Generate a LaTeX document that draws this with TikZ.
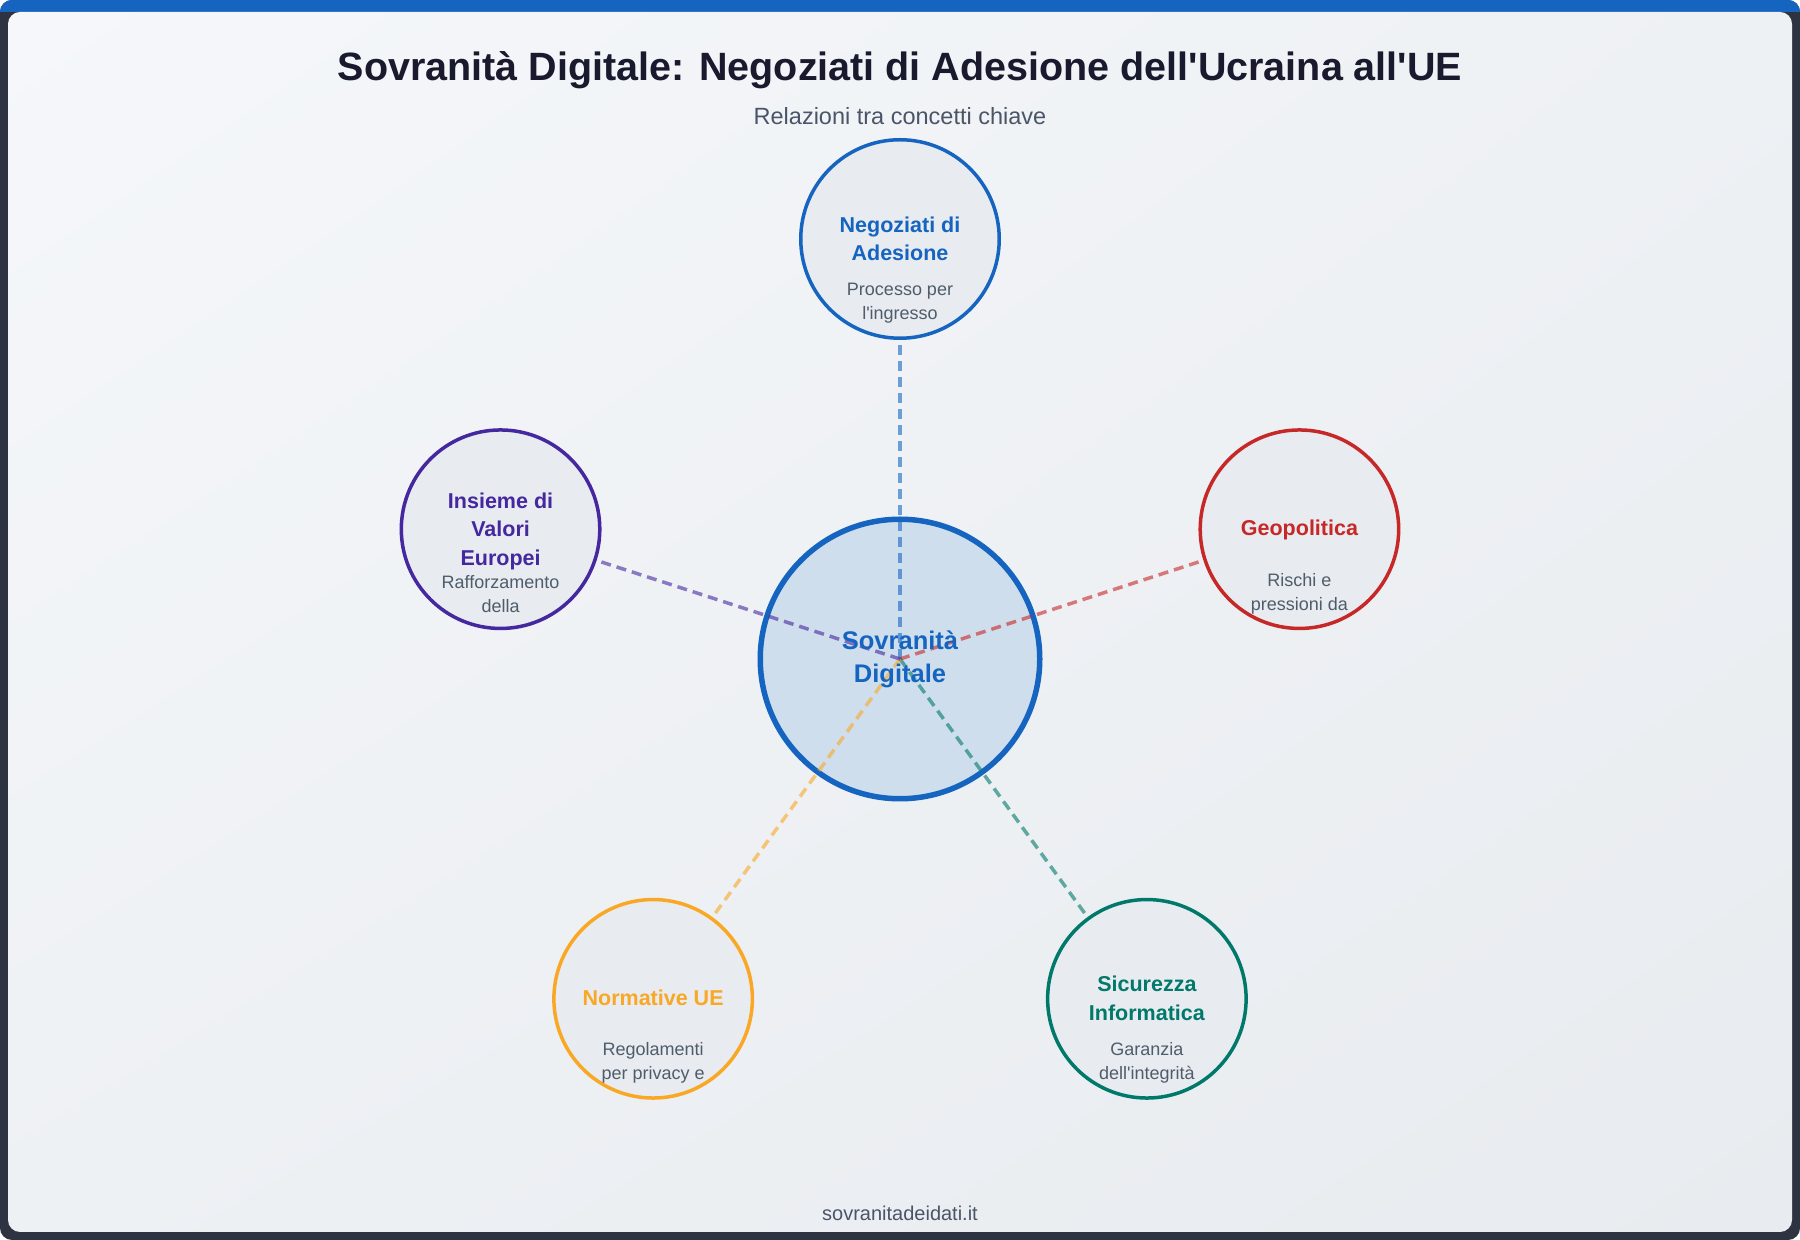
\documentclass[tikz,border=0pt]{standalone}
\usepackage{fontspec}
\setmainfont{Liberation Sans}
\usetikzlibrary{shadings}
\definecolor{framedark}{HTML}{2D3341}
\definecolor{topblue}{HTML}{1565C0}
\definecolor{panelA}{HTML}{F5F7FA}
\definecolor{panelM}{HTML}{EEF1F4}
\definecolor{panelB}{HTML}{E8EBEF}
\definecolor{circfill}{HTML}{E8EBEF}
\definecolor{centerfill}{HTML}{CFDEED}
\definecolor{titlec}{HTML}{1A1A2E}
\definecolor{subc}{HTML}{4A5568}
\definecolor{desctext}{HTML}{4F5D6B}
\definecolor{blueC}{HTML}{1565C0}
\definecolor{purpleC}{HTML}{4527A0}
\definecolor{redC}{HTML}{C62828}
\definecolor{orangeC}{HTML}{F9A825}
\definecolor{tealC}{HTML}{00796B}
\begin{document}
\begin{tikzpicture}[x=1pt,y=1pt,
  concept/.style={circle, draw=#1, line width=3.5pt, fill=circfill, minimum size=198.5pt, inner sep=0pt},
  ctitle/.style={text=#1, font=\bfseries\fontsize{21.5}{28.5}\selectfont, align=center, inner sep=0pt},
  cdesc/.style={text=desctext, font=\fontsize{18}{24}\selectfont, align=center, inner sep=0pt},
  link/.style={draw=#1, draw opacity=0.6, line width=3.5pt, dash pattern=on 10pt off 6pt}]
\useasboundingbox (0,0) rectangle (1800,1240);
\fill[white] (0,0) rectangle (1800,1240);
\begin{scope}
  \clip[rounded corners=12pt] (0,0) rectangle (1800,1240);
  \fill[framedark] (0,0) rectangle (1800,1240);
  \fill[topblue] (0,1228) rectangle (1800,1240);
\end{scope}
\shade[rounded corners=12pt, upper left=panelA, upper right=panelM, lower left=panelM, lower right=panelB] (8,8) rectangle (1792,1228);

\node[font=\bfseries\fontsize{39.5}{44}\selectfont, text=titlec] (title) at (900,1170) {Sovranità Digitale: Negoziati di Adesione dell\textquotesingle Ucraina all\textquotesingle UE};
\node[font=\fontsize{23.5}{28}\selectfont, text=subc] (subtitle) at (900,1124) {Relazioni tra concetti chiave};
\node[font=\fontsize{20}{24}\selectfont, text=subc] (footer) at (900,27) {sovranitadeidati.it};

\node[circle, draw=topblue, line width=5.5pt, fill=centerfill, minimum size=279.5pt, inner sep=0pt] (c) at (900,581) {};

\coordinate (pneg) at ([shift={(90:420)}]c.center);
\coordinate (pgeo) at ([shift={(18:420)}]c.center);
\coordinate (psic) at ([shift={(306:420)}]c.center);
\coordinate (pnorm) at ([shift={(234:420)}]c.center);
\coordinate (pval) at ([shift={(162:420)}]c.center);

\draw[link=blueC] (c.center) -- (pneg);
\draw[link=redC] (c.center) -- (pgeo);
\draw[link=tealC] (c.center) -- (psic);
\draw[link=orangeC] (c.center) -- (pnorm);
\draw[link=purpleC] (c.center) -- (pval);

\node[ctitle=blueC, font=\bfseries\fontsize{25.5}{33}\selectfont] (ctext) at ([yshift=-0.5pt]c.center) {Sovranità\\Digitale};

\node[concept=blueC] (neg) at (pneg) {};
\node[concept=redC] (geo) at (pgeo) {};
\node[concept=tealC] (sic) at (psic) {};
\node[concept=orangeC] (norm) at (pnorm) {};
\node[concept=purpleC] (val) at (pval) {};

\node[ctitle=blueC] (negt) at ([yshift=0pt]neg.center) {Negoziati di\\Adesione};
\node[cdesc] (negd) at ([yshift=-64.5pt]neg.center) {Processo per\\l\textquotesingle ingresso};

\node[ctitle=purpleC] (valt) at ([yshift=-2pt]val.center) {Insieme di\\Valori\\Europei};
\node[cdesc] (vald) at ([yshift=-64.5pt]val.center) {Rafforzamento\\della};

\node[ctitle=redC] (geot) at ([yshift=-0.5pt]geo.center) {Geopolitica};
\node[cdesc] (geod) at ([yshift=-64.5pt]geo.center) {Rischi e\\pressioni da};

\node[ctitle=orangeC] (normt) at ([yshift=0.5pt]norm.center) {Normative UE};
\node[cdesc] (normd) at ([yshift=-64.5pt]norm.center) {Regolamenti\\per privacy e};

\node[ctitle=tealC] (sict) at ([yshift=0.5pt]sic.center) {Sicurezza\\Informatica};
\node[cdesc] (sicd) at ([yshift=-64.5pt]sic.center) {Garanzia\\dell\textquotesingle integrità};
\end{tikzpicture}
\end{document}
